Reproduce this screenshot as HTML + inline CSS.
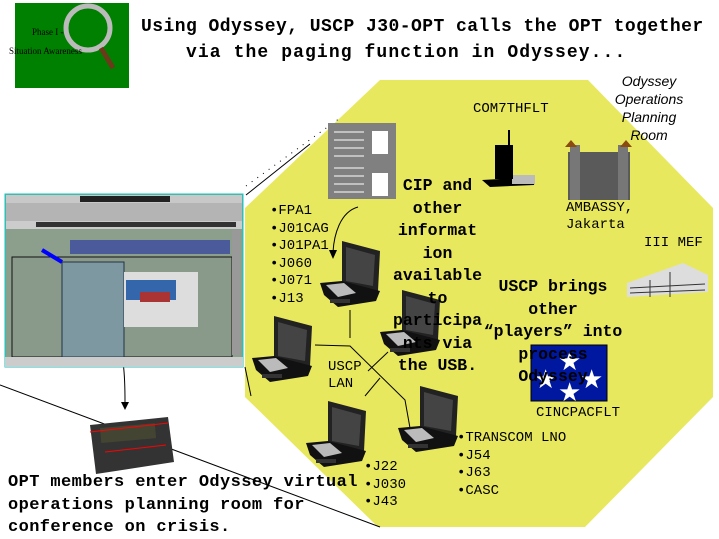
<!DOCTYPE html>
<html><head><meta charset="utf-8"><style>
html,body{margin:0;padding:0;background:#fff;width:719px;height:539px;overflow:hidden;position:relative;font-family:"Liberation Mono","DejaVu Sans Mono",monospace}
.t{position:absolute;white-space:nowrap;color:#000}
.b{font-weight:bold}
</style></head><body>
<svg width="719" height="539" style="position:absolute;left:0;top:0">
<defs>
<g id="lap">
<polygon points="22,0 60,10 58,50 22,44" fill="#222"/>
<polygon points="26,6 55,14 53,45 26,40" fill="#444"/>
<polygon points="0,42 22,40 60,50 56,60 18,66 4,54" fill="#111"/>
<polygon points="6,44 24,42 36,52 18,56" fill="#bbb"/>
<rect x="10" y="58" width="20" height="4" fill="#333"/>
</g>
</defs>
<polygon points="380,80 588,80 713,208 713,397 585,527 378,527 245,397 245,208" fill="#e8e85e"/>
<line x1="246" y1="186" x2="340" y2="118" stroke="#000" stroke-dasharray="1,6"/>
<line x1="246" y1="195" x2="310" y2="144" stroke="#000" stroke-width="1"/>
<line x1="245" y1="367" x2="251" y2="396" stroke="#000"/>
<line x1="0" y1="385" x2="380" y2="527" stroke="#000"/>
<path d="M110,328 C125,345 125,380 125,402" stroke="#000" fill="none"/>
<polygon points="121,402 129,402 125,410" fill="#000"/>
<!-- screenshot window -->
<rect x="5" y="185" width="240" height="10" fill="#fff"/>
<rect x="5" y="194" width="238" height="173" fill="#8c9e8c" stroke="#0cc" stroke-width="1"/>
<rect x="6" y="195" width="236" height="8" fill="#c8c8c8"/>
<rect x="80" y="196" width="90" height="6" fill="#222"/>
<rect x="6" y="203" width="236" height="18" fill="#b4b4b4"/>
<rect x="6" y="221" width="236" height="8" fill="#ccc"/>
<rect x="36" y="222" width="200" height="5" fill="#333"/>
<rect x="70" y="240" width="160" height="14" fill="#4a5a9a"/>
<rect x="12" y="257" width="220" height="100" fill="#8a9a8a" stroke="#111"/>
<rect x="62" y="262" width="62" height="95" fill="#7d98a0" stroke="#234"/>
<rect x="124" y="272" width="74" height="55" fill="#ddd"/>
<rect x="126" y="280" width="50" height="20" fill="#36a"/>
<rect x="140" y="292" width="30" height="10" fill="#a33"/>
<rect x="5" y="357" width="238" height="10" fill="#ccc"/>
<rect x="232" y="230" width="8" height="125" fill="#999"/>
<line x1="42" y1="250" x2="62" y2="262" stroke="#00f" stroke-width="4"/>
<!-- pager -->
<polygon points="90,425 168,417 174,462 96,474" fill="#333"/>
<rect x="100" y="428" width="55" height="15" fill="#443" transform="rotate(-5 100 428)"/>
<line x1="90" y1="432" x2="168" y2="423" stroke="#f00"/>
<line x1="105" y1="452" x2="166" y2="445" stroke="#f00"/>
<!-- document icon -->
<rect x="328" y="123" width="68" height="76" fill="#808080"/>
<rect x="372" y="131" width="16" height="23" fill="#fff"/>
<rect x="372" y="173" width="16" height="23" fill="#fff"/>
<g stroke="#fff"><line x1="334" y1="132" x2="364" y2="132"/><line x1="334" y1="140" x2="364" y2="140"/><line x1="334" y1="148" x2="364" y2="148"/><line x1="334" y1="156" x2="364" y2="156"/><line x1="334" y1="168" x2="364" y2="168"/><line x1="334" y1="176" x2="364" y2="176"/><line x1="334" y1="184" x2="364" y2="184"/><line x1="334" y1="192" x2="364" y2="192"/></g>
<path d="M358,207 C340,212 334,235 333,252" stroke="#000" fill="none"/>
<polygon points="329,250 337,250 333,259" fill="#000"/>
<!-- ship -->
<polygon points="482,180 535,177 534,185 490,187" fill="#000"/>
<rect x="512" y="175" width="23" height="9" fill="#bbb"/>
<rect x="495" y="145" width="18" height="34" fill="#000"/>
<line x1="509" y1="130" x2="509" y2="150" stroke="#000" stroke-width="2"/>
<!-- castle -->
<rect x="568" y="152" width="62" height="48" fill="#5a5a5a"/>
<rect x="570" y="145" width="10" height="55" fill="#777"/>
<rect x="618" y="145" width="10" height="55" fill="#777"/>
<polygon points="565,147 571,140 577,147" fill="#8a4a10"/>
<polygon points="620,147 626,140 632,147" fill="#8a4a10"/>
<!-- III MEF -->
<polygon points="627,283 683,263 708,275 708,292 627,297" fill="#ddd"/>
<g stroke="#333"><line x1="630" y1="288" x2="705" y2="284"/><line x1="630" y1="293" x2="705" y2="290"/><line x1="650" y1="280" x2="650" y2="297"/><line x1="670" y1="272" x2="670" y2="297"/></g>
<g stroke="#000" fill="none">
<polyline points="350,310 350,338"/>
<polyline points="315,345 350,346 405,400 410,428"/>
<polyline points="368,371 388,352"/>
<polyline points="365,396 380,378"/>
</g>
<rect x="531" y="345" width="76" height="56" fill="#0018a0" stroke="#000"/>
<g fill="#fff" font-size="26" font-family="DejaVu Sans"><text x="558" y="370">★</text><text x="534" y="388">★</text><text x="580" y="388">★</text><text x="558" y="401">★</text></g>
<use href="#lap" x="320" y="241"/>
<use href="#lap" x="252" y="316"/>
<use href="#lap" x="380" y="290"/>
<use href="#lap" x="306" y="401"/>
<use href="#lap" x="398" y="386"/>
<rect x="15" y="3" width="114" height="85" fill="#008000"/>
<circle cx="88" cy="28" r="22" fill="none" stroke="#bbb" stroke-width="5"/>
<line x1="101" y1="48" x2="113" y2="68" stroke="#6a3a1a" stroke-width="5"/>
</svg>
<div class="t" style="left:32px;top:27px;font:9px 'Liberation Serif',serif">Phase I -</div>
<div class="t" style="left:9px;top:46px;font:9px 'Liberation Serif',serif">Situation Awareness</div>
<div class="t b" style="left:141px;top:17px;font-size:18px;letter-spacing:0.45px">Using  Odyssey, USCP J30-OPT calls the OPT together</div>
<div class="t b" style="left:186px;top:43px;font-size:18px;letter-spacing:1.1px">via the paging function in Odyssey...</div>
<div class="t" style="left:604px;top:72px;font:italic 14px/18px 'Liberation Sans',sans-serif;text-align:center;width:90px">Odyssey<br>Operations<br>Planning<br>Room</div>
<div class="t" style="left:473px;top:101px;font-size:14px">COM7THFLT</div>
<div class="t" style="left:566px;top:200px;font-size:14px;line-height:17px">AMBASSY,<br>Jakarta</div>
<div class="t" style="left:644px;top:235px;font-size:14px">III MEF</div>
<div class="t" style="left:536px;top:405px;font-size:14px">CINCPACFLT</div>
<div class="t b" style="left:390px;top:175px;width:95px;font-size:16.5px;line-height:22.5px;text-align:center">CIP and<br>other<br>informat<br>ion<br>available<br>to<br>participa<br>nts via<br>the USB.</div>
<div class="t b" style="left:478px;top:276px;width:150px;font-size:16.5px;line-height:22.5px;text-align:center">USCP brings<br>other<br>“players” into<br>process<br>Odyssey</div>
<div class="t" style="left:270px;top:203px;font-size:14px;line-height:17.5px">•FPA1<br>•J01CAG<br>•J01PA1<br>•J060<br>•J071<br>•J13</div>
<div class="t" style="left:328px;top:359px;font-size:14px;line-height:17px">USCP<br>LAN</div>
<div class="t" style="left:457px;top:430px;font-size:14px;line-height:17.5px">•TRANSCOM LNO<br>•J54<br>•J63<br>•CASC</div>
<div class="t" style="left:364px;top:459px;font-size:14px;line-height:17.5px">•J22<br>•J030<br>•J43</div>
<div class="t b" style="left:8px;top:472px;font-size:17px;letter-spacing:0.4px;line-height:22.5px">OPT members enter Odyssey virtual<br>operations planning room for<br>conference on crisis.</div>
</body></html>
